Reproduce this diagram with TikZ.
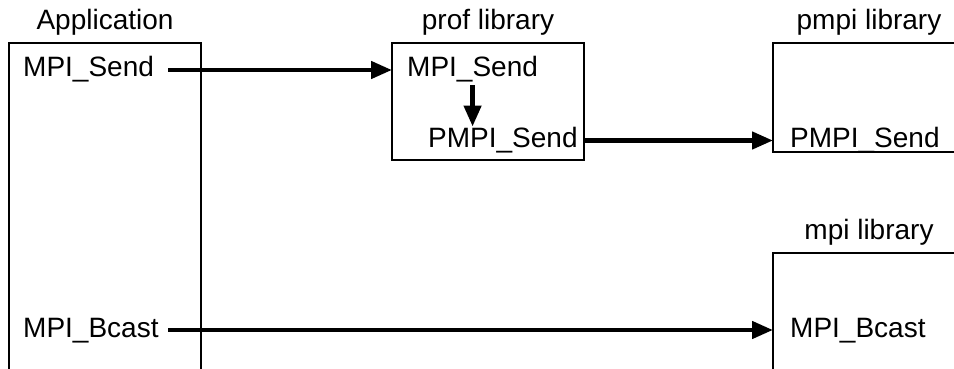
\documentclass[tikz,border=0pt]{standalone}
\usepackage{fontspec}
\setmainfont{Liberation Sans}
\usetikzlibrary{positioning,arrows.meta}

\begin{document}
\begin{tikzpicture}[
    x=1pt, y=1pt,
    >={Triangle[length=21pt,width=17pt]},
    lib/.style={draw, line width=2pt, minimum width=192pt, inner sep=0pt, outer sep=0pt},
    title/.style={font=\fontsize{28}{34}\selectfont, inner sep=0pt},
    func/.style={font=\fontsize{28}{34}\selectfont, inner sep=3pt, anchor=base west},
    arrow/.style={->, line width=4.5pt, draw=black}
]
  \clip (0,0) rectangle (954,-369);

  \node[lib, minimum height=357pt, anchor=north west] (app) at (9,-43) {};
  \node[lib, minimum height=117pt, anchor=north west] (prof) at (392,-43) {};
  \node[lib, minimum height=109pt, anchor=north west] (pmpi) at (773,-43) {};
  \node[lib, minimum height=147pt, anchor=north west] (mpi) at (773,-253) {};

  % Labels
  \node[title, above=7pt of app] (apptitle) {Application};
  \node[title, above=7pt of prof] (proftitle) {prof library};
  \node[title, above=7pt of pmpi] (pmpititle) {pmpi library};
  \node[title, above=7pt of mpi] (mpititle) {mpi library};

  \node[func] (appsend) at ([xshift=11pt, yshift=-33.5pt]app.north west) {MPI\_Send};
  \node[func] (appbcast) at ([xshift=11pt, yshift=-294pt]app.north west) {MPI\_Bcast};
  \node[func] (profsend) at ([xshift=12pt, yshift=-33.5pt]prof.north west) {MPI\_Send};
  \node[func] (profpsend) at ([xshift=33pt, yshift=-104pt]prof.north west) {PMPI\_Send};
  \node[func] (pmpisend) at ([xshift=14pt, yshift=-104pt]pmpi.north west) {PMPI\_Send};
  \node[func] (mpibcast) at ([xshift=14pt, yshift=-84pt]mpi.north west) {MPI\_Bcast};

  \coordinate (appout) at ([xshift=-33pt]app.north east);
  \coordinate (sendline) at ([yshift=6.5pt]appsend.base);
  \coordinate (psendline) at ([yshift=6.5pt]profpsend.base);
  \coordinate (bcastline) at ([yshift=7pt]appbcast.base);

  \draw[arrow] (appout |- sendline) -- (prof.west |- sendline);
  \draw[arrow, shorten >=-3pt] (profsend.south) -- (profsend.south |- profpsend.north);
  \draw[arrow] (prof.east |- psendline) -- (pmpi.west |- psendline);
  \draw[arrow] (appout |- bcastline) -- (mpi.west |- bcastline);
\end{tikzpicture}
\end{document}
